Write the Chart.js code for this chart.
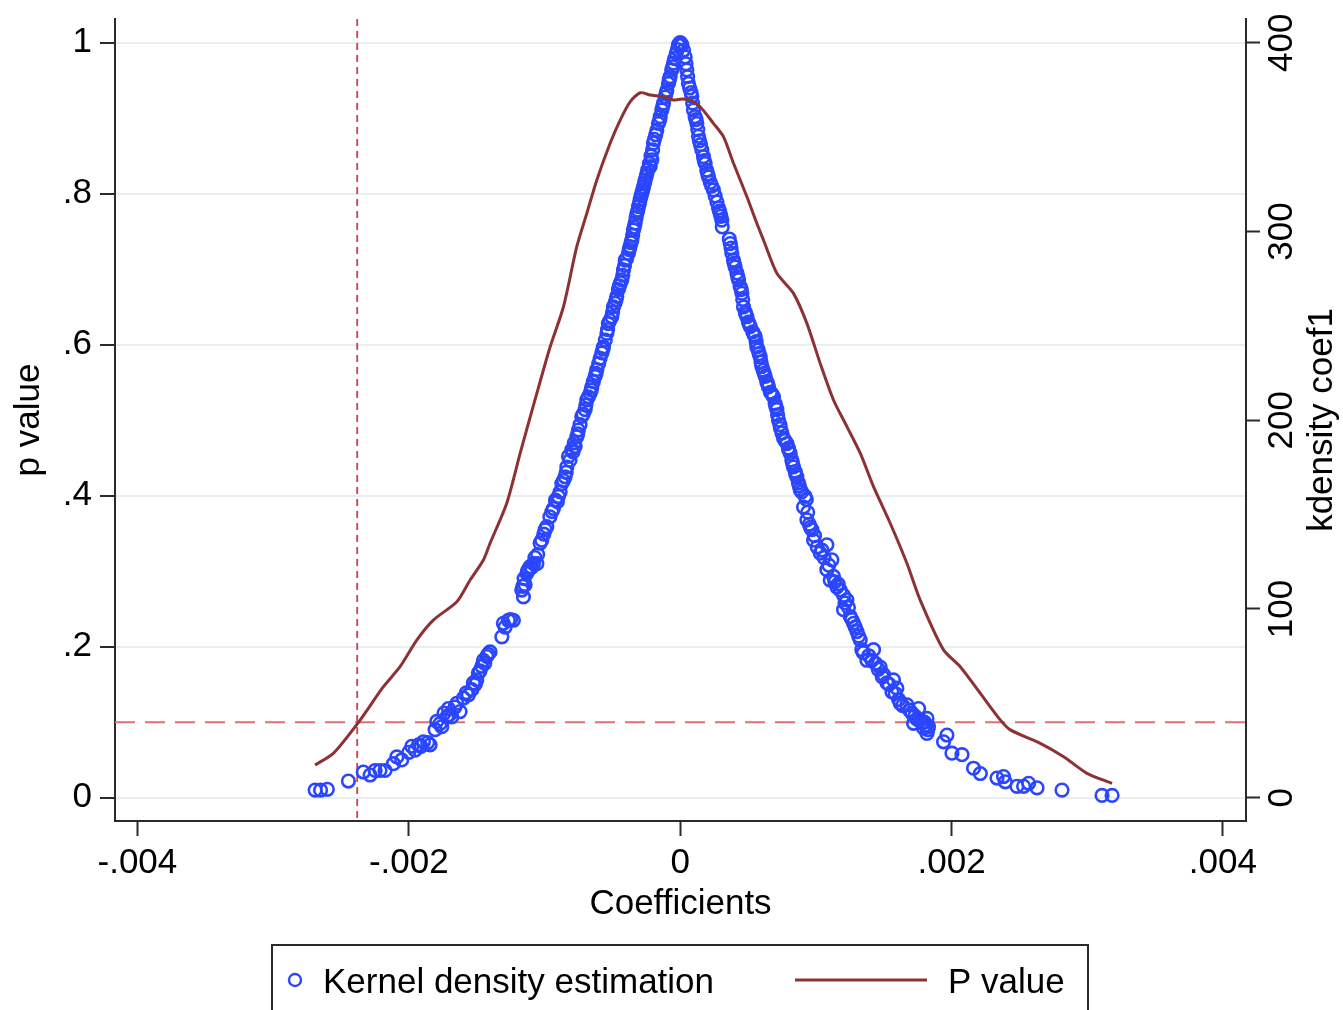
<!DOCTYPE html>
<html>
<head>
<meta charset="utf-8">
<script src="https://cdn.jsdelivr.net/npm/chart.js@4.4.1/dist/chart.umd.min.js"></script>
<style>
  html, body { margin: 0; padding: 0; background: #fff; }
  #wrap { width: 1343px; height: 1010px; }
</style>
</head>
<body>
<div id="wrap"><canvas id="chart" width="1343" height="1010"></canvas></div>
<script>
// placebo coefficients and their p values (scatter, left axis)
const coefs = [
  -0.00269, -0.00265, -0.00260, -0.002445, -0.002335, -0.002285, -0.002248, -0.002212, -0.002175,
  -0.002113, -0.002088, -0.002052, -0.001978, -0.001953, -0.001928, -0.001892, -0.001843,
  -0.001806, -0.001794, -0.001757, -0.001720, -0.001708, -0.001683, -0.001646, -0.001622,
  -0.001597, -0.001561, -0.001536, -0.001524, -0.001499, -0.001487, -0.001462, -0.001450,
  -0.001425, -0.001401, -0.001314, -0.001303, -0.001266, -0.001229, -0.001167, -0.001155,
  -0.001143, -0.001130, -0.001118, -0.001106, -0.001081, -0.001056, -0.001032, -0.000995,
  -0.000983, -0.000934, -0.000919, -0.000897, -0.000872, -0.000848, -0.000835, -0.000823,
  -0.000798, -0.000774, -0.000762, -0.000750, -0.000725, -0.000700, -0.000688, -0.000663,
  -0.000651, -0.000627, -0.000614, -0.000577, -0.000565, -0.000540, -0.000529, -0.000504,
  -0.000492, -0.000467, -0.000455, -0.000430, -0.000418, -0.000405, -0.000381, -0.000369,
  -0.000356, -0.000344, -0.000332, -0.000319, -0.000307, -0.000295, -0.000282, -0.000270,
  -0.000258, -0.000245, -0.000221, -0.000209, -0.000197, -0.000172, -0.000147, -0.000123,
  -0.000098, -0.000074, -0.000049, -0.000029, -0.000013, 0.000000,
  0.000013, 0.000037, 0.000049, 0.000061, 0.000086, 0.000098, 0.000123, 0.000135, 0.000160,
  0.000184, 0.000209, 0.000245, 0.000271, 0.000295, 0.000307, 0.000310, 0.000369, 0.000381,
  0.000405, 0.000430, 0.000455, 0.000467, 0.000492, 0.000516, 0.000553, 0.000565, 0.000590,
  0.000602, 0.000627, 0.000651, 0.000688, 0.000713, 0.000725, 0.000750, 0.000787, 0.000811,
  0.000835, 0.000860, 0.000885, 0.000921, 0.000909, 0.000934, 0.000971, 0.000983, 0.001081,
  0.001032, 0.001118, 0.001081, 0.001130, 0.001155, 0.001204, 0.001106, 0.001229, 0.001204,
  0.001253, 0.001278, 0.001303, 0.001327, 0.001339, 0.001425, 0.001376, 0.001413, 0.001474,
  0.001499, 0.001524, 0.001572, 0.001561, 0.001597, 0.001622, 0.001671, 0.001708, 0.001757,
  0.001720, 0.001769, 0.001819, 0.001794, 0.001830, 0.001819, 0.001966, 0.001941, 0.002003,
  0.002077, 0.002162, 0.002212, 0.002335, 0.002383, 0.002396, 0.002482, 0.002568, 0.002531,
  0.002630, 0.002814, 0.003109, 0.003183,
  // left branch, dense part
  -0.001095, -0.001070, -0.001050, -0.001020, -0.001005, -0.000960, -0.000945, -0.000905,
  -0.000885, -0.000860, -0.000840, -0.000812, -0.000790, -0.000780, -0.000755, -0.000738,
  -0.000715, -0.000695, -0.000676, -0.000655, -0.000640, -0.000620, -0.000600, -0.000590,
  -0.000570, -0.000552, -0.000535, -0.000518, -0.000498, -0.000480, -0.000472, -0.000448,
  -0.000440, -0.000423, -0.000410, -0.000395, -0.000375, -0.000362, -0.000350, -0.000338,
  -0.000325, -0.000312, -0.000300, -0.000288, -0.000276, -0.000263, -0.000250, -0.000238,
  -0.000227, -0.000215, -0.000203, -0.000190, -0.000180, -0.000160, -0.000152, -0.000135,
  -0.000128, -0.000110, -0.000104, -0.000086, -0.000080, -0.000062, -0.000055, -0.000040,
  -0.000020, -0.000005,
  // right branch, dense part
  0.000005, 0.000025, 0.000043, 0.000055, 0.000070, 0.000080, 0.000092, 0.000110, 0.000117,
  0.000130, 0.000142, 0.000150, 0.000172, 0.000178, 0.000196, 0.000203, 0.000222, 0.000233,
  0.000258, 0.000283, 0.000290, 0.000300,
  0.000362, 0.000375, 0.000393, 0.000398, 0.000418, 0.000424, 0.000442, 0.000450, 0.000461,
  0.000480, 0.000485, 0.000503, 0.000510, 0.000535, 0.000545, 0.000560, 0.000575, 0.000582,
  0.000596, 0.000612, 0.000620, 0.000638, 0.000645, 0.000665, 0.000676, 0.000700, 0.000705,
  0.000718, 0.000735, 0.000740, 0.000762, 0.000772, 0.000798, 0.000800, 0.000823, 0.000828,
  0.000848, 0.000852, 0.000872, 0.000878, 0.000895, 0.000930, 0.000940, 0.000952, 0.000960,
  0.000990, 0.001010, 0.001045, 0.001060, 0.001095, 0.001140, 0.001165, 0.001180, 0.001215,
  0.001240, 0.001265, 0.001290, 0.001315, 0.001350, 0.001390, 0.001440, 0.001460, 0.001490,
  0.001540, 0.001585, 0.001610, 0.001640, 0.001690, 0.001730, 0.001745, 0.001780, 0.001800,
  0.001810, 0.001825,
  // left branch, lower part
  -0.001575, -0.001510, -0.001475, -0.001440, -0.001415, -0.001290, -0.001250, -0.001160,
  -0.001150, -0.001125, -0.001740, -0.001770, -0.001700, -0.001660, -0.001860, -0.001910,
  -0.002000
];
const pValues = [
  0.010, 0.010, 0.011, 0.022, 0.034, 0.030, 0.036, 0.036, 0.036,
  0.045, 0.054, 0.050, 0.068, 0.063, 0.070, 0.074, 0.070,
  0.090, 0.101, 0.094, 0.107, 0.118, 0.107, 0.125, 0.114,
  0.132, 0.136, 0.143, 0.152, 0.156, 0.165, 0.174, 0.182,
  0.187, 0.193, 0.213, 0.231, 0.235, 0.235, 0.275, 0.266,
  0.282, 0.297, 0.302, 0.306, 0.310, 0.310, 0.337, 0.355,
  0.359, 0.383, 0.394, 0.399, 0.416, 0.425, 0.438, 0.452,
  0.461, 0.465, 0.478, 0.487, 0.505, 0.514, 0.527, 0.536,
  0.544, 0.558, 0.567, 0.589, 0.597, 0.615, 0.628, 0.637,
  0.650, 0.664, 0.673, 0.686, 0.699, 0.712, 0.721, 0.730,
  0.739, 0.752, 0.761, 0.774, 0.783, 0.792, 0.801, 0.809,
  0.818, 0.827, 0.836, 0.845, 0.867, 0.884, 0.902, 0.920,
  0.937, 0.955, 0.973, 0.986, 0.997, 1.000,
  0.997, 0.981, 0.964, 0.946, 0.929, 0.911, 0.893, 0.876, 0.858,
  0.840, 0.822, 0.805, 0.789, 0.774, 0.765, 0.756, 0.734, 0.721,
  0.703, 0.686, 0.668, 0.650, 0.637, 0.624, 0.611, 0.597, 0.584,
  0.571, 0.558, 0.544, 0.531, 0.514, 0.500, 0.483, 0.469, 0.456,
  0.438, 0.425, 0.408, 0.399, 0.385, 0.368, 0.355, 0.341, 0.335,
  0.324, 0.315, 0.302, 0.293, 0.279, 0.268, 0.288, 0.262, 0.249,
  0.240, 0.231, 0.220, 0.209, 0.196, 0.196, 0.182, 0.182, 0.173,
  0.163, 0.152, 0.156, 0.140, 0.145, 0.125, 0.123, 0.112, 0.118,
  0.0985, 0.103, 0.105, 0.092, 0.094, 0.085, 0.083, 0.074, 0.059,
  0.057, 0.039, 0.032, 0.026, 0.028, 0.021, 0.015, 0.019, 0.015,
  0.013, 0.010, 0.003, 0.003,
  // left branch, dense part
  0.305, 0.318, 0.322, 0.341, 0.349, 0.372, 0.379, 0.392,
  0.405, 0.420, 0.431, 0.447, 0.458, 0.470, 0.482, 0.494,
  0.508, 0.520, 0.531, 0.540, 0.551, 0.562, 0.575, 0.582,
  0.594, 0.606, 0.620, 0.632, 0.643, 0.655, 0.660, 0.678,
  0.682, 0.692, 0.705, 0.714, 0.726, 0.735, 0.745, 0.756,
  0.768, 0.778, 0.787, 0.797, 0.805, 0.814, 0.823, 0.832,
  0.840, 0.850, 0.858, 0.872, 0.878, 0.893, 0.897, 0.911,
  0.916, 0.928, 0.933, 0.946, 0.951, 0.964, 0.968, 0.979,
  0.991, 0.999,
  // right branch, dense part
  0.999, 0.990, 0.972, 0.955, 0.940, 0.934, 0.920, 0.902, 0.898,
  0.885, 0.870, 0.865, 0.849, 0.844, 0.831, 0.826, 0.815, 0.810,
  0.797, 0.781, 0.777, 0.770,
  0.740, 0.728, 0.712, 0.708, 0.695, 0.690, 0.677, 0.673, 0.660,
  0.643, 0.640, 0.630, 0.627, 0.617, 0.613, 0.604, 0.593, 0.588,
  0.577, 0.566, 0.562, 0.551, 0.548, 0.537, 0.535, 0.522, 0.518,
  0.507, 0.494, 0.489, 0.476, 0.473, 0.463, 0.461, 0.447, 0.443,
  0.432, 0.428, 0.417, 0.413, 0.405, 0.395, 0.378, 0.362, 0.358,
  0.347, 0.332, 0.328, 0.318, 0.308, 0.286, 0.283, 0.275, 0.258,
  0.252, 0.236, 0.226, 0.214, 0.192, 0.188, 0.178, 0.170, 0.160,
  0.150, 0.138, 0.130, 0.122, 0.116, 0.108, 0.104, 0.099, 0.100,
  0.096, 0.090,
  // left branch, lower part
  0.139, 0.150, 0.168, 0.178, 0.190, 0.226, 0.236, 0.280,
  0.290, 0.300, 0.112, 0.098, 0.110, 0.120, 0.073, 0.068,
  0.060
];

// kernel density of the coefficients (line, right axis)
const densityX = [
  -0.002691, -0.002556, -0.002371, -0.002187, -0.002064, -0.001941, -0.001819, -0.001646,
  -0.001548, -0.001450, -0.001401, -0.001278, -0.001179, -0.001056, -0.000958, -0.000860,
  -0.000762, -0.000688, -0.000614, -0.000516, -0.000442, -0.000369, -0.000295, -0.000221,
  -0.000123, -0.000049, 0.000013, 0.000074, 0.000147, 0.000245, 0.000319, 0.000393,
  0.000492, 0.000565, 0.000614, 0.000713, 0.000835, 0.000934, 0.001032, 0.001130,
  0.001229, 0.001327, 0.001425, 0.001548, 0.001671, 0.001769, 0.001941, 0.002064,
  0.002212, 0.002359, 0.002433, 0.002654, 0.002826, 0.002998, 0.003183
];
const densityY = [
  17.3, 23.5, 39.9, 58.8, 69.4, 83.5, 94.1, 103.8,
  115.3, 125.9, 134.8, 156.0, 182.5, 214.3, 238.9, 260.1,
  291.9, 309.6, 327.3, 346.7, 359.0, 368.7, 373.5, 372.3,
  371.4, 369.6, 370.2, 369.6, 366.1, 357.3, 350.2, 336.1,
  318.4, 304.3, 295.5, 277.8, 267.2, 251.3, 230.1, 210.7,
  196.6, 182.5, 164.8, 145.4, 124.2, 104.7, 78.3, 69.4,
  55.3, 41.2, 35.9, 28.8, 21.7, 12.9, 7.6
];

const xTicks = [-0.004, -0.002, 0, 0.002, 0.004];
const xTickLabels = ['-.004', '-.002', '0', '.002', '.004'];
const pTicks = [0, 0.2, 0.4, 0.6, 0.8, 1];
const pTickLabels = ['0', '.2', '.4', '.6', '.8', '1'];
const densityTicks = [0, 100, 200, 300, 400];
const densityTickLabels = ['0', '100', '200', '300', '400'];

// reference lines
const pCutoff = 0.1;
const coefCutoff = -0.00238;

const FONT = "'Liberation Sans', Arial, Helvetica, sans-serif";
const BLUE = '#2b46ff';
const MAROON = '#8c3232';
const AXIS = '#2a2a2a';
const GRID = '#e7eff1';

Chart.defaults.font.family = FONT;
Chart.defaults.color = '#000';

const scatterPts = coefs.map((c, i) => ({ x: c, y: pValues[i] }));
const densityPts = densityX.map((c, i) => ({ x: c, y: densityY[i] }));

const extras = {
  id: 'extras',
  beforeDatasetsDraw(chart) {
    const { ctx, chartArea: a, scales } = chart;
    ctx.save();
    // vertical cutoff
    const vx = scales.x.getPixelForValue(coefCutoff);
    ctx.strokeStyle = '#d83a46';
    ctx.lineWidth = 1.8;
    ctx.setLineDash([7, 5]);
    ctx.beginPath();
    ctx.moveTo(vx, a.top);
    ctx.lineTo(vx, a.bottom);
    ctx.stroke();
    // horizontal p = .1
    const hy = scales.y.getPixelForValue(pCutoff);
    ctx.strokeStyle = '#e07074';
    ctx.lineWidth = 2;
    ctx.setLineDash([20, 10]);
    ctx.beginPath();
    ctx.moveTo(a.left, hy);
    ctx.lineTo(a.right, hy);
    ctx.stroke();
    ctx.restore();
  },
  afterDraw(chart) {
    const { ctx, chartArea: a, scales } = chart;
    ctx.save();
    ctx.fillStyle = '#000';
    ctx.font = '35px ' + FONT;
    ctx.textAlign = 'center';
    ctx.textBaseline = 'middle';
    // right axis labels, rotated
    densityTicks.forEach((v, i) => {
      const y = scales.y2.getPixelForValue(v);
      ctx.save();
      ctx.translate(1282, y);
      ctx.rotate(-Math.PI / 2);
      ctx.fillText(densityTickLabels[i], 0, 0);
      ctx.restore();
    });
    ctx.save();
    ctx.translate(1322, (a.top + a.bottom) / 2);
    ctx.rotate(-Math.PI / 2);
    ctx.fillText('kdensity coef1', 0, 0);
    ctx.restore();

    // legend
    ctx.strokeStyle = AXIS;
    ctx.lineWidth = 2;
    ctx.strokeRect(272, 945, 816, 90);
    ctx.strokeStyle = BLUE;
    ctx.lineWidth = 2.4;
    ctx.beginPath();
    ctx.arc(295, 980, 6, 0, Math.PI * 2);
    ctx.stroke();
    ctx.strokeStyle = MAROON;
    ctx.lineWidth = 3;
    ctx.beginPath();
    ctx.moveTo(795, 980);
    ctx.lineTo(927, 980);
    ctx.stroke();
    ctx.textAlign = 'left';
    ctx.textBaseline = 'alphabetic';
    ctx.fillText('Kernel density estimation', 323, 993);
    ctx.fillText('P value', 948, 993);
    ctx.restore();
  }
};

new Chart(document.getElementById('chart'), {
  type: 'scatter',
  data: {
    datasets: [
      {
        label: 'Kernel density estimation',
        data: scatterPts,
        yAxisID: 'y',
        pointRadius: 6.3,
        pointBorderWidth: 2.6,
        pointBorderColor: BLUE,
        pointBackgroundColor: 'rgba(0,0,0,0)',
        order: 1
      },
      {
        type: 'line',
        label: 'P value',
        data: densityPts,
        yAxisID: 'y2',
        borderColor: MAROON,
        borderWidth: 3,
        pointRadius: 0,
        tension: 0.25,
        fill: false,
        order: 0
      }
    ]
  },
  options: {
    responsive: false,
    animation: false,
    devicePixelRatio: 1,
    layout: { padding: { top: 19, left: 0, right: 0, bottom: 0 } },
    plugins: {
      legend: { display: false },
      tooltip: { enabled: false }
    },
    scales: {
      x: {
        type: 'linear',
        min: -0.004165,
        max: 0.00417,
        afterBuildTicks: s => { s.ticks = xTicks.map(v => ({ value: v })); },
        afterFit: s => { s.height = 189; },
        ticks: {
          callback: (v, i) => xTickLabels[i],
          font: { size: 35 },
          padding: 6,
          color: '#000',
          maxRotation: 0,
          autoSkip: false
        },
        grid: { drawOnChartArea: false, drawTicks: true, tickLength: 15, tickColor: AXIS, tickWidth: 2 },
        border: { color: AXIS, width: 2 },
        title: { display: true, text: 'Coefficients', font: { size: 35 }, color: '#000', padding: { top: 0, bottom: 85 } }
      },
      y: {
        position: 'left',
        min: -0.0309,
        max: 1.0314,
        afterBuildTicks: s => { s.ticks = pTicks.map(v => ({ value: v })); },
        afterFit: s => { s.width = 115; },
        ticks: {
          callback: (v, i) => pTickLabels[i],
          font: { size: 35, lineHeight: 0.6 },
          padding: 8,
          color: '#000'
        },
        grid: { color: GRID, lineWidth: 2, drawTicks: true, tickLength: 15, tickColor: AXIS, tickWidth: 2 },
        border: { color: AXIS, width: 2 },
        title: { display: true, text: 'p value', font: { size: 35 }, color: '#000', padding: { top: 8, bottom: 0 } }
      },
      y2: {
        position: 'right',
        min: -12.36,
        max: 412.56,
        afterBuildTicks: s => { s.ticks = densityTicks.map(v => ({ value: v })); },
        afterFit: s => { s.width = 97; },
        ticks: { display: false },
        grid: { drawOnChartArea: false, drawTicks: true, tickLength: 14, tickColor: AXIS, tickWidth: 2 },
        border: { color: AXIS, width: 2 }
      }
    }
  },
  plugins: [extras]
});
</script>
</body>
</html>
